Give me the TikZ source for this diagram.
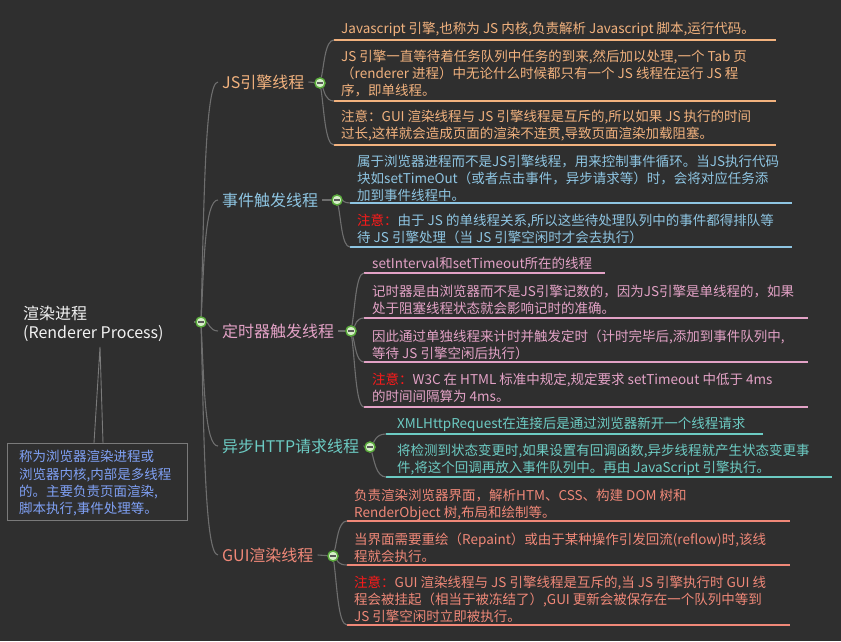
\documentclass[tikz,border=0pt]{standalone}
\usepackage{fontspec}
\setmainfont{Noto Sans CJK SC}
\definecolor{bgc}{HTML}{2F2F2F}
\definecolor{cnc}{HTML}{6E6E6E}
\definecolor{jsc}{HTML}{F2B27E}
\definecolor{evc}{HTML}{8EC5E2}
\definecolor{tmc}{HTML}{E3A2C6}
\definecolor{htc}{HTML}{6CCBC3}
\definecolor{guc}{HTML}{F08878}
\definecolor{redc}{HTML}{FF1A1A}
\definecolor{notec}{HTML}{7FA0F4}
\definecolor{rootc}{HTML}{F2F2F2}
\definecolor{mkfill}{HTML}{D6EFC8}
\definecolor{mkdraw}{HTML}{5AAA3C}
\definecolor{boxc}{HTML}{7A7A7A}
\begin{document}
\begin{tikzpicture}[x=1pt,y=-1pt,
  leaf/.style={anchor=north west, inner sep=0pt, align=left, font=\fontsize{13.5}{16.8}\selectfont},
  branch/.style={anchor=west, inner sep=0pt, font=\fontsize{16}{19}\selectfont},
  cn/.style={draw=cnc, line width=1.1pt},
  uline/.style={line width=1.7pt},
  marker/.style={circle, draw=mkdraw, fill=mkfill, line width=1.3pt, minimum size=10pt, inner sep=0pt,
    path picture={\draw[line width=1.3pt, draw=black!65] ([xshift=-2.6pt]path picture bounding box.center) -- ([xshift=2.6pt]path picture bounding box.center);}}
]
\fill[bgc] (0,0) rectangle (841,641);
\useasboundingbox (0,0) rectangle (841,641);

% ---------- root ----------
\node[anchor=north west, inner sep=0pt, align=left, text=rootc, font=\fontsize{16}{19}\selectfont] (root) at (23,306) {渲染进程\\(Renderer Process)};
\node[draw=boxc, line width=0.9pt, fill=bgc, minimum width=180pt, minimum height=77pt, anchor=north west, inner sep=0pt] (note) at (7,443) {};
\node[leaf, text=notec, font=\fontsize{13.5}{17.3}\selectfont] (notet) at (19,450.2) {称为浏览器渲染进程或\\浏览器内核,内部是多线程\\的。主要负责页面渲染,\\脚本执行,事件处理等。};
\coordinate (tipA) at (100,347);
\coordinate (baseL) at (94,443);
\coordinate (baseR) at (103,443);
\draw[draw=boxc, line width=0.9pt] (baseL) -- (tipA) -- (baseR);

% ---------- branch labels ----------
\node[branch, text=jsc] (bJ) at (222,82) {JS引擎线程};
\node[branch, text=evc] (bE) at (222,200) {事件触发线程};
\node[branch, text=tmc] (bT) at (222,331) {定时器触发线程};
\node[branch, text=htc] (bH) at (222,446) {异步HTTP请求线程};
\node[branch, text=guc] (bG) at (222,555) {GUI渲染线程};

% ---------- markers ----------
\node[marker] (mR) at (201,322) {};
\node[marker] (mJ) at (320,83) {};
\node[marker] (mE) at (337,200) {};
\node[marker] (mT) at (351,331) {};
\node[marker] (mH) at (370,447) {};
\node[marker] (mG) at (333,556) {};

% ---------- trunk ----------
\coordinate (rs) at (194,322);
\draw[cn] (rs) -- (mR);
\draw[cn] (mR) .. controls (204,202) and (205,82) .. ([xshift=-4pt]bJ.west);
\draw[cn] (mR) .. controls (204,261) and (205,200) .. ([xshift=-4pt]bE.west);
\draw[cn] (mR) .. controls (208,322) and (210,331) .. ([xshift=-4pt]bT.west);
\draw[cn] (mR) .. controls (204,384) and (205,446) .. ([xshift=-4pt]bH.west);
\draw[cn] (mR) .. controls (204,438) and (205,555) .. ([xshift=-4pt]bG.west);

% stubs label -> marker
\draw[cn] ([xshift=4pt]bJ.east) -- (mJ);
\draw[cn] ([xshift=4pt]bE.east) -- (mE);
\draw[cn] ([xshift=4pt]bT.east) -- (mT);
\draw[cn] ([xshift=4pt]bH.east) -- (mH);
\draw[cn] ([xshift=4pt]bG.east) -- (mG);

% ---------- JS leaves ----------
\coordinate (j1s) at (334,40);  \coordinate (j1e) at (776,40);
\coordinate (j2s) at (334,101); \coordinate (j2e) at (776,101);
\coordinate (j3s) at (334,145); \coordinate (j3e) at (776,145);
\draw[uline, draw=jsc] (j1s) -- (j1e);
\draw[uline, draw=jsc] (j2s) -- (j2e);
\draw[uline, draw=jsc] (j3s) -- (j3e);
\draw[cn] (mJ) .. controls (324,66) and (325,40) .. (j1s);
\draw[cn] (mJ) .. controls (324,90) and (325,101) .. (j2s);
\draw[cn] (mJ) .. controls (324,108) and (325,145) .. (j3s);
\node[leaf, text=jsc] (j1) at (341,22.2) {Javascript 引擎,也称为 JS 内核,负责解析 Javascript 脚本,运行代码。};
\node[leaf, text=jsc] (j2) at (341,50.2) {JS 引擎一直等待着任务队列中任务的到来,然后加以处理,一个 Tab 页\\（renderer 进程）中无论什么时候都只有一个 JS 线程在运行 JS 程\\序，即单线程。};
\node[leaf, text=jsc] (j3) at (341,110.2) {注意：GUI 渲染线程与 JS 引擎线程是互斥的,所以如果 JS 执行的时间\\过长,这样就会造成页面的渲染不连贯,导致页面渲染加载阻塞。};

% ---------- event leaves ----------
\coordinate (e1s) at (350,203); \coordinate (e1e) at (792,203);
\coordinate (e2s) at (350,247); \coordinate (e2e) at (792,247);
\draw[uline, draw=evc] (e1s) -- (e1e);
\draw[uline, draw=evc] (e2s) -- (e2e);
\draw[cn] (mE) .. controls (342,200) and (344,203) .. (e1s);
\draw[cn] (mE) .. controls (341,219) and (342,247) .. (e2s);
\node[leaf, text=evc] (e1) at (357,155.2) {属于浏览器进程而不是JS引擎线程，用来控制事件循环。当JS执行代码\\块如setTimeOut（或者点击事件，异步请求等）时，会将对应任务添\\加到事件线程中。};
\node[leaf, text=evc] (e2) at (357,214.2) {{\color{redc}注意：}由于 JS 的单线程关系,所以这些待处理队列中的事件都得排队等\\待 JS 引擎处理（当 JS 引擎空闲时才会去执行）};

% ---------- timer leaves ----------
\coordinate (t1s) at (364,273); \coordinate (t1e) at (605,273);
\coordinate (t2s) at (364,318); \coordinate (t2e) at (808,318);
\coordinate (t3s) at (364,362); \coordinate (t3e) at (808,362);
\coordinate (t4s) at (364,407); \coordinate (t4e) at (808,407);
\draw[uline, draw=tmc] (t1s) -- (t1e);
\draw[uline, draw=tmc] (t2s) -- (t2e);
\draw[uline, draw=tmc] (t3s) -- (t3e);
\draw[uline, draw=tmc] (t4s) -- (t4e);
\draw[cn] (mT) .. controls (355,308) and (356,273) .. (t1s);
\draw[cn] (mT) .. controls (355,326) and (356,318) .. (t2s);
\draw[cn] (mT) .. controls (355,343) and (356,362) .. (t3s);
\draw[cn] (mT) .. controls (355,361) and (356,407) .. (t4s);
\node[leaf, text=tmc] (t1) at (372,257.2) {setInterval和setTimeout所在的线程};
\node[leaf, text=tmc] (t2) at (372,285.2) {记时器是由浏览器而不是JS引擎记数的，因为JS引擎是单线程的，如果\\处于阻塞线程状态就会影响记时的准确。};
\node[leaf, text=tmc] (t3) at (372,330.2) {因此通过单独线程来计时并触发定时（计时完毕后,添加到事件队列中,\\等待 JS 引擎空闲后执行）};
\node[leaf, text=tmc] (t4) at (372,373.2) {{\color{redc}注意：}W3C 在 HTML 标准中规定,规定要求 setTimeout 中低于 4ms\\的时间间隔算为 4ms。};

% ---------- HTTP leaves ----------
\coordinate (h1s) at (386,434); \coordinate (h1e) at (763,434);
\coordinate (h2s) at (386,477); \coordinate (h2e) at (832,477);
\draw[uline, draw=htc] (h1s) -- (h1e);
\draw[uline, draw=htc] (h2s) -- (h2e);
\draw[cn] (mH) .. controls (374,442) and (376,434) .. (h1s);
\draw[cn] (mH) .. controls (374,459) and (376,477) .. (h2s);
\node[leaf, text=htc] (h1) at (397,417.2) {XMLHttpRequest在连接后是通过浏览器新开一个线程请求};
\node[leaf, text=htc] (h2) at (397,444.2) {将检测到状态变更时,如果设置有回调函数,异步线程就产生状态变更事\\件,将这个回调再放入事件队列中。再由 JavaScript 引擎执行。};

% ---------- GUI leaves ----------
\coordinate (g1s) at (347,521); \coordinate (g1e) at (790,521);
\coordinate (g2s) at (347,565); \coordinate (g2e) at (790,565);
\coordinate (g3s) at (347,625); \coordinate (g3e) at (790,625);
\draw[uline, draw=guc] (g1s) -- (g1e);
\draw[uline, draw=guc] (g2s) -- (g2e);
\draw[uline, draw=guc] (g3s) -- (g3e);
\draw[cn] (mG) .. controls (337,542) and (338,521) .. (g1s);
\draw[cn] (mG) .. controls (337,560) and (338,565) .. (g2s);
\draw[cn] (mG) .. controls (337,584) and (338,625) .. (g3s);
\node[leaf, text=guc] (g1) at (354,489.2) {负责渲染浏览器界面，解析HTM、CSS、构建 DOM 树和\\RenderObject 树,布局和绘制等。};
\node[leaf, text=guc] (g2) at (354,533.2) {当界面需要重绘（Repaint）或由于某种操作引发回流(reflow)时,该线\\程就会执行。};
\node[leaf, text=guc] (g3) at (354,576.2) {{\color{redc}注意：}GUI 渲染线程与 JS 引擎线程是互斥的,当 JS 引擎执行时 GUI 线\\程会被挂起（相当于被冻结了）,GUI 更新会被保存在一个队列中等到\\JS 引擎空闲时立即被执行。};

% markers on top
\node[marker] at (mR) {};
\node[marker] at (mJ) {};
\node[marker] at (mE) {};
\node[marker] at (mT) {};
\node[marker] at (mH) {};
\node[marker] at (mG) {};
\end{tikzpicture}
\end{document}
